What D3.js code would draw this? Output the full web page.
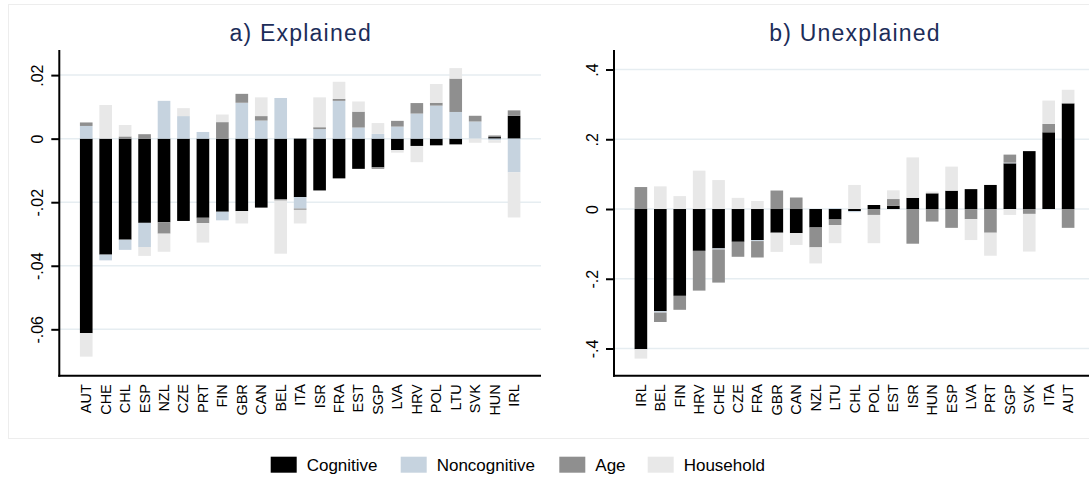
<!DOCTYPE html>
<html>
<head>
<meta charset="utf-8">
<script src="https://cdn.jsdelivr.net/npm/d3@7"></script>
<style>
  body { margin: 0; background: #fff; }
  svg { display: block; font-family: "Liberation Sans", Arial, sans-serif; }
</style>
</head>
<body>
<svg id="chart" width="1089" height="477"></svg>
<script>
// components, in stacking order
const components = ["Cognitive", "Noncognitive", "Age", "Household"];
const compColors = ["#000000", "#c6d3df", "#8f8f8f", "#e8e8e8"];

// a) Explained
const expCountries = ["AUT","CHE","CHL","ESP","NZL","CZE","PRT","FIN","GBR","CAN","BEL","ITA","ISR","FRA","EST","SGP","LVA","HRV","POL","LTU","SVK","HUN","IRL"];
const expCognitive    = [-0.0612,-0.0365,-0.0318,-0.0265,-0.0263,-0.0259,-0.0249,-0.0230,-0.0228,-0.0217,-0.0190,-0.0184,-0.0163,-0.0125,-0.0095,-0.0090,-0.0036,-0.0023,-0.0021,-0.0018,0,0.0005,0.0072];
const expNoncognitive = [0.0040,-0.0018,-0.0032,-0.0076,0.0119,0.0071,0.0021,-0.0027,0.0113,0.0057,0.0128,-0.0036,0.0030,0.0119,0.0035,0.0015,0.0038,0.0079,0.0104,0.0084,0.0054,-0.0005,-0.0106];
const expAge          = [0.0011,0,0.0007,0.0014,-0.0036,0,-0.0017,0.0052,0.0028,0.0014,-0.0005,-0.0004,0.0006,0.0006,0.0050,-0.0005,0.0018,0.0033,0.0009,0.0105,0.0018,0.0005,0.0017];
const expHousehold    = [-0.0074,0.0106,0.0036,-0.0028,-0.0057,0.0025,-0.0061,0.0024,-0.0039,0.0059,-0.0167,-0.0043,0.0094,0.0054,0.0032,0.0034,-0.0008,-0.0051,0.0059,0.0033,-0.0013,-0.0008,-0.0142];
const expTicks = [-0.06, -0.04, -0.02, 0, 0.02];
const expTickLabels = ["-.06", "-.04", "-.02", "0", ".02"];

// b) Unexplained
const unCountries = ["IRL","BEL","FIN","HRV","CHE","CZE","FRA","GBR","CAN","NZL","LTU","CHL","POL","EST","ISR","HUN","ESP","LVA","PRT","SGP","SVK","ITA","AUT"];
const unCognitive    = [-0.402,-0.293,-0.249,-0.120,-0.113,-0.094,-0.089,-0.068,-0.069,-0.053,-0.030,-0.006,0.0115,0.0096,0.032,0.045,0.0526,0.057,0.069,0.131,0.166,0.220,0.303];
const unNoncognitive = [0,-0.004,0,0,-0.003,0,-0.003,0,0,0,0.002,-0.003,0,0,0,0,0,0,0,0.002,0,0,0];
const unAge          = [0.063,-0.027,-0.040,-0.114,-0.095,-0.043,-0.047,0.053,0.033,-0.057,-0.016,0,-0.017,0.019,-0.0995,-0.036,-0.054,-0.029,-0.068,0.023,-0.014,0.024,-0.054];
const unHousehold    = [-0.027,0.065,0.037,0.110,0.083,0.032,0.023,-0.055,-0.034,-0.046,-0.052,0.069,-0.081,0.025,0.116,0.005,0.069,-0.060,-0.066,-0.017,-0.108,0.067,0.039];
const unTicks = [-0.4, -0.2, 0, 0.2, 0.4];
const unTickLabels = ["-.4", "-.2", "0", ".2", ".4"];

const svg = d3.select("#chart");
const plotTop = 50, plotBottom = 375.7;

// faint outer frame
svg.append("rect")
  .attr("x", 8.5).attr("y", 4.5).attr("width", 1100).attr("height", 434)
  .attr("fill", "none").attr("stroke", "#ededed");

function drawPanel(opts) {
  const rows = opts.countries.map((c, i) => ({
    country: c,
    Cognitive: opts.series[0][i],
    Noncognitive: opts.series[1][i],
    Age: opts.series[2][i],
    Household: opts.series[3][i]
  }));

  const x = d3.scaleBand()
    .domain(opts.countries)
    .range([opts.left, opts.right])
    .paddingInner(0.35)
    .paddingOuter(1.06);

  const y = d3.scaleLinear()
    .domain(opts.yDomain)
    .range([plotBottom, plotTop]);

  const g = svg.append("g");

  // gridlines
  g.selectAll(".grid")
    .data(opts.ticks)
    .join("line")
    .attr("class", "grid")
    .attr("x1", opts.left).attr("x2", opts.right)
    .attr("y1", d => y(d)).attr("y2", d => y(d))
    .attr("stroke", "#e6edf1").attr("stroke-width", 1.5);

  // stacked bars
  const stacked = d3.stack()
    .keys(components)
    .offset(d3.stackOffsetDiverging)(rows);

  g.selectAll(".layer")
    .data(stacked)
    .join("g")
    .attr("class", "layer")
    .attr("fill", (d, i) => compColors[i])
    .selectAll("rect")
    .data(d => d)
    .join("rect")
    .attr("x", d => x(d.data.country))
    .attr("width", x.bandwidth())
    .attr("y", d => y(Math.max(d[0], d[1])))
    .attr("height", d => Math.abs(y(d[0]) - y(d[1])));

  // y axis
  const yAxis = g.append("g")
    .attr("transform", "translate(" + opts.left + ",0)")
    .call(d3.axisLeft(y)
      .tickValues(opts.ticks)
      .tickFormat((d, i) => opts.tickLabels[i])
      .tickSize(8)
      .tickSizeOuter(0));
  yAxis.select(".domain").remove();
  yAxis.selectAll(".tick line").attr("stroke", "#000").attr("stroke-width", 2);
  yAxis.selectAll(".tick text")
    .attr("transform", "rotate(-90)")
    .attr("x", 0).attr("y", -16).attr("dy", 0)
    .attr("text-anchor", "middle")
    .attr("fill", "#000")
    .style("font-size", "16px");

  // axis lines
  g.append("line")
    .attr("x1", opts.left).attr("x2", opts.left)
    .attr("y1", plotTop).attr("y2", plotBottom + 1)
    .attr("stroke", "#000").attr("stroke-width", 2);
  g.append("line")
    .attr("x1", opts.left - 1).attr("x2", opts.right)
    .attr("y1", plotBottom).attr("y2", plotBottom)
    .attr("stroke", "#000").attr("stroke-width", 2);

  // country labels
  g.selectAll(".clabel")
    .data(opts.countries)
    .join("text")
    .attr("class", "clabel")
    .attr("transform", d => "translate(" + (x(d) + x.bandwidth() / 2 + 5) + "," + (plotBottom + 8.5) + ") rotate(-90)")
    .attr("text-anchor", "end")
    .style("font-size", "14.5px")
    .text(d => d);

  // title
  g.append("text")
    .attr("x", (opts.left + opts.right) / 2 + 0.6)
    .attr("y", 40.5)
    .attr("text-anchor", "middle")
    .attr("fill", "#1c2d59")
    .style("font-size", "23px")
    .style("letter-spacing", "1.2px")
    .text(opts.title);
}

drawPanel({
  title: "a) Explained",
  countries: expCountries,
  series: [expCognitive, expNoncognitive, expAge, expHousehold],
  ticks: expTicks, tickLabels: expTickLabels,
  yDomain: [-0.0746, 0.0279],
  left: 59.3, right: 541
});

drawPanel({
  title: "b) Unexplained",
  countries: unCountries,
  series: [unCognitive, unNoncognitive, unAge, unHousehold],
  ticks: unTicks, tickLabels: unTickLabels,
  yDomain: [-0.478, 0.456],
  left: 614, right: 1095
});

// legend
const legendX = [270.7, 400.7, 559.3, 647.7];
const legend = svg.append("g");
components.forEach((c, i) => {
  legend.append("rect")
    .attr("x", legendX[i]).attr("y", 456.7)
    .attr("width", 26).attr("height", 16)
    .attr("fill", compColors[i]);
  legend.append("text")
    .attr("x", legendX[i] + 36).attr("y", 471.3)
    .style("font-size", "17px")
    .text(c);
});
</script>
</body>
</html>
